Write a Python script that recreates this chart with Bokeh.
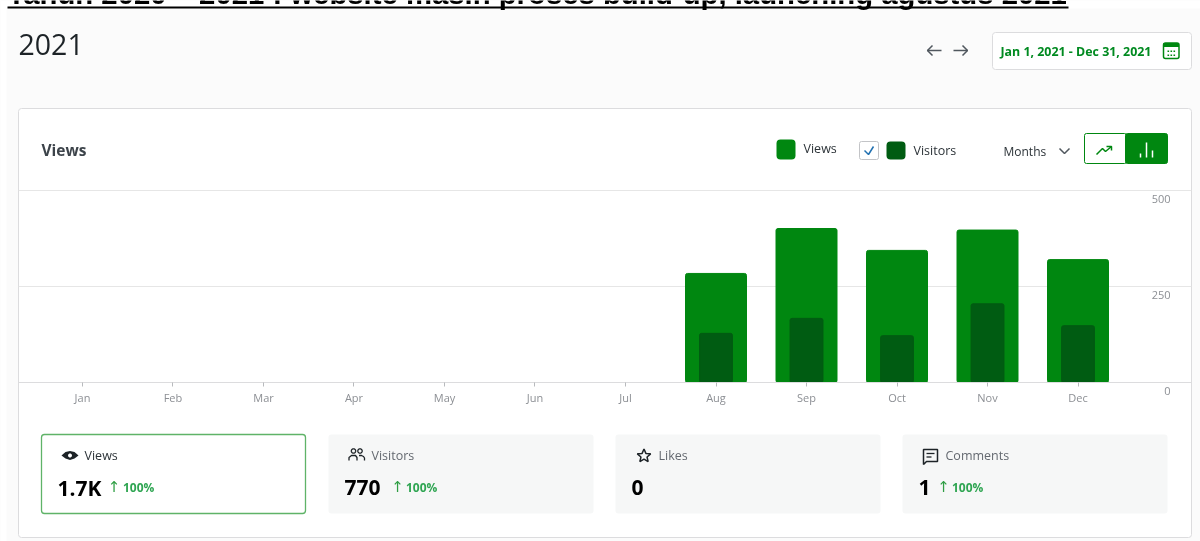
from bokeh.embed import file_html
from bokeh.resources import INLINE
from bokeh.plotting import figure
from bokeh.layouts import column
from bokeh.core.properties import value
from bokeh.models import Range1d, FixedTicker
import math

months = ["Jan","Feb","Mar","Apr","May","Jun","Jul","Aug","Sep","Oct","Nov","Dec"]
views = [0,0,0,0,0,0,0,284,401,344,397,320]
visitors = [0,0,0,0,0,0,0,128,167,122,205,148]
y_ticks = [0,250,500]
heading = "Tahun 2020 – 2021 : website masih proses build-up, launching agustus 2021"
page_title = "2021"
date_range = "Jan 1, 2021 - Dec 31, 2021"
stat_names = ["Views","Visitors","Likes","Comments"]
stat_values = ["1.7K","770","0","1"]
stat_changes = ["100%","100%","","100%"]

GREEN="#008710"; DARK="#005c12"; BORDER="#dcdcde"; UI="Open Sans"
FIX={"position":"fixed","left":"0px","top":"0px"}

# ---------- page furniture, in page pixels
bg = figure(width=1200, height=541, output_backend="svg", toolbar_location=None,
            x_range=Range1d(0,1200), y_range=Range1d(541,0),
            x_axis_location=None, y_axis_location=None, frame_align=False,
            min_border=0, min_border_left=0, min_border_right=0, min_border_top=0, min_border_bottom=0,
            background_fill_color="#fbfbfb", border_fill_color="#fbfbfb", outline_line_color=None)
bg.styles=dict(FIX)
bg.xgrid.visible=False; bg.ygrid.visible=False

def box(l,t,r,b,fill=None,line=None,w=1,rad=0):
    bg.quad(left=[l],right=[r],top=[t],bottom=[b],fill_color=fill,fill_alpha=1 if fill else 0,
            line_color=line,line_alpha=1 if line else 0,line_width=w,border_radius=rad)
def text(x,y,s,size=12,color="#2c3338",style="normal",font=UI,align="left"):
    bg.text(x=[x],y=[y],text=[s],text_font=value(font),text_font_size=f"{size}px",text_color=color,
            text_font_style=style,text_align=align,text_baseline="middle")
def poly(xs,ys,fill=None,line=None,w=1.5):
    bg.patch(x=list(xs),y=list(ys),fill_color=fill,fill_alpha=1 if fill else 0,
             line_color=line,line_alpha=1 if line else 0,line_width=w)
def path(xs,ys,line,w=1.5):
    bg.line(x=list(xs),y=list(ys),line_color=line,line_width=w)
def circle(cx,cy,r,fill=None,line=None,w=1.5):
    a=[i*2*math.pi/20 for i in range(20)]
    poly([cx+r*math.cos(t) for t in a],[cy+r*math.sin(t) for t in a],fill,line,w)

box(0,0,1200,8,"white")
box(0,0,6,541,"white")
text(7,-7,heading,29.3,"black","bold","Liberation Sans")
box(7,6,1068,8,"black")
text(18,44,page_title,28.5,"#1d2327")
path([927,941],[50,50],"#50575e"); path([932,927,932],[45,50,55],"#50575e")
path([953,967],[50,50],"#50575e"); path([962,967,962],[45,50,55],"#50575e")
box(992,32,1191,69,"white",BORDER,1,3)
text(1000,50.5,date_range,12.4,"#008a20","bold")
box(1163,42.5,1178.5,58,"white",GREEN,1.5,2)
box(1163,42.5,1178.5,46.5,GREEN)
for yy in (50,54):
    for xx in (1167,1170,1173):
        box(xx,yy,xx+1.6,yy+1.6,GREEN)

box(18,108,1191,537,"white",BORDER,1,3)
text(41,149.5,"Views",15.5,"#3c434a","bold")
box(776,139,795,159,GREEN,None,rad=4)
text(803,148,"Views",12.5,"#2c3338")
box(859,141,878,159,"white","#c3c4c7",1,2)
path([864,868,873],[150,154,146],"#2271b1")
box(886,141,905,159,DARK,None,rad=4)
text(913,149.5,"Visitors",12.5,"#2c3338")
text(1003,151,"Months",12,"#2c3338")
path([1059,1064,1069],[148,153,148],"#50575e")
box(1084,133,1126,163,"white",GREEN,1,2)
box(1125,133,1167,163,GREEN,GREEN,1,2)
path([1096,1102,1105,1111],[154,148,151,146],GREEN); path([1106,1111,1111],[146,146,150],GREEN)
path([1140,1140],[153,157],"white"); path([1146,1146],[142,157],"white"); path([1152,1152],[150,157],"white")

tile_l=[41,328,615,902]; tile_r=[305,593,880,1167]
name_x=[84,371,658,945]; val_x=[57,344,631,918]; arrow_x=[113.5,397,None,943]; pct_x=[123,406,None,952]
for i in range(4):
    if i==0: box(tile_l[i],434,tile_r[i],513,"white","#5fb368",1.3,3)
    else: box(tile_l[i],434,tile_r[i],513,"#f6f7f7",None,rad=3)
    text(name_x[i],455,stat_names[i],12.5,"#2c3338" if i==0 else "#646970")
    text(val_x[i],487,stat_values[i],21,"#000000","bold")
    if stat_changes[i]:
        text(arrow_x[i],486,"↑",15,"#2f9e44","normal","DejaVu Sans",align="center")
        text(pct_x[i]-0.5,487,stat_changes[i],12,"#2fa552","bold")
poly([61,65,69.5,74,78,74,69.5,65],[455,451.5,450.5,451.5,455,458,459.5,458],"#1d2327")
circle(69.5,455,2,"#ffffff",None)
circle(353,450.5,2.2,None,"#1d2327",1.3); circle(359.5,450.5,2.2,None,"#1d2327",1.3)
path([348.5,348.5,351,355,356.5,356.5],[460,457,455,455,457,460],"#1d2327",1.3)
path([358.5,361,363,364,364],[455,455,456,457.5,460],"#1d2327",1.3)
a=[-math.pi/2+i*math.pi/5 for i in range(10)]
poly([643.5+(7 if i%2==0 else 3.2)*math.cos(t) for i,t in enumerate(a)],
     [455.5+(7 if i%2==0 else 3.2)*math.sin(t) for i,t in enumerate(a)],None,"#1d2327",1.5)
poly([923,937,937,926,923],[449,449,461,461,464],None,"#1d2327",1.5)
path([926,934],[453,453],"#1d2327",1.3); path([926,931],[456.5,456.5],"#1d2327",1.3)

# ---------- the chart (frame one pixel taller than the 500 line so that line is not clipped)
p = figure(width=1200, height=541, output_backend="svg", toolbar_location=None,
           x_range=Range1d(-0.707, 12.254), y_range=Range1d(0,502.6),
           x_axis_location="below", y_axis_location=None, frame_align=False,
           min_border_left=18, min_border_right=9, min_border_top=189, min_border_bottom=159,
           background_fill_color=None, border_fill_color=None, outline_line_color=None)
p.styles=dict(FIX)
idx = list(range(len(months)))
p.vbar(x=idx, top=views, width=0.674, color=GREEN, border_radius=2)
p.vbar(x=idx, top=visitors, width=0.364, color=DARK, border_radius=2)
p.xgrid.visible=False
p.ygrid.ticker=FixedTicker(ticks=y_ticks)
p.ygrid.grid_line_color="#e6e6e6"
xa=p.xaxis[0]
xa.ticker=FixedTicker(ticks=idx)
xa.major_label_overrides={i:m for i,m in enumerate(months)}
xa.axis_line_color=BORDER
xa.major_tick_line_color="#b8babd"; xa.major_tick_out=4; xa.major_tick_in=0
xa.minor_tick_line_color=None
xa.major_label_text_font=UI; xa.major_label_text_font_size="11px"; xa.major_label_text_color="#8c8f94"
xa.major_label_standoff=3

# ---------- value labels sit 8px under their gridlines, right-aligned at x=1170
q = figure(width=1200, height=541, output_backend="svg", toolbar_location=None,
           x_range=Range1d(0,1), y_range=Range1d(0,500),
           x_axis_location=None, y_axis_location="left", frame_align=False,
           min_border_left=1171, min_border_right=28, min_border_top=198, min_border_bottom=151,
           background_fill_color=None, border_fill_color=None, outline_line_color=None)
q.styles=dict(FIX)
q.xgrid.visible=False; q.ygrid.visible=False
ya=q.yaxis[0]
ya.ticker=FixedTicker(ticks=y_ticks)
ya.axis_line_color=None; ya.major_tick_line_color=None; ya.minor_tick_line_color=None
ya.major_tick_out=0; ya.major_tick_in=0; ya.major_label_standoff=1
ya.major_label_text_font=UI; ya.major_label_text_font_size="11px"; ya.major_label_text_color="#8c8f94"

open("out.html","w").write(file_html(column(bg,p,q),INLINE))
